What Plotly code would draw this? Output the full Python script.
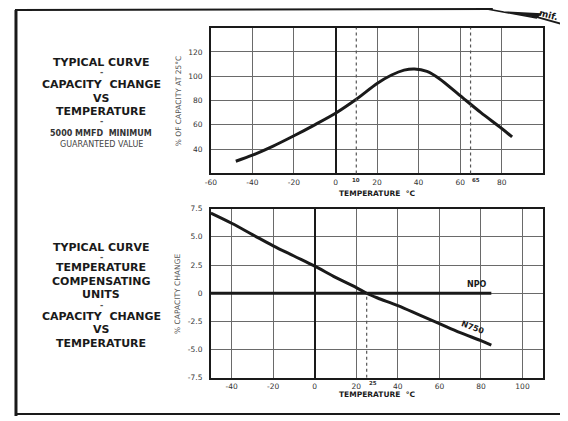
import plotly.graph_objects as go

# page is shown with the default 8px body margin, so the figure is laid out in page pixels minus that margin
OFF = 8
FW, FH = 568 - OFF, 421 - OFF

# ---------------- data ----------------
# Top chart: % of capacity at 25 C vs temperature
top_temp = [-48, -40, -30, -20, -10, 0, 10, 20, 27, 33, 38, 44, 50, 60, 70, 80, 85]
top_pct = [30, 35, 42.5, 51, 60, 69.5, 81, 94, 101, 105, 106, 104, 98, 84, 70, 57, 50]

# Bottom chart: % capacity change vs temperature
n750_temp = [-50, -40, -30, -20, -10, 0, 10, 20, 25, 30, 40, 50, 60, 70, 80, 85]
n750_pct = [7.1, 6.2, 5.2, 4.2, 3.3, 2.4, 1.4, 0.5, 0.0, -0.4, -1.1, -1.9, -2.7, -3.5, -4.2, -4.6]
npo_temp = [-50, 85]
npo_pct = [0, 0]

top_xticks = [-60, -40, -20, 0, 20, 40, 60, 80]
top_xlabels = ["-60", "-40", "-20", "0", "20", "40", "60", "80"]
top_yticks = [40, 60, 80, 100, 120]
top_ylabels = ["40", "60", "80", "100", "120"]
bot_xticks = [-40, -20, 0, 20, 40, 60, 80, 100]
bot_xlabels = ["-40", "-20", "0", "20", "40", "60", "80", "100"]
bot_yticks = [-7.5, -5, -2.5, 0, 2.5, 5, 7.5]
bot_ylabels = ["-7.5", "-5.0", "-2.5", "0", "2.5", "5.0", "7.5"]
top_marks = [10, 65]
bot_marks = [25]

FONT = "DejaVu Sans"
INK = "#1a1a1a"
GRID = "#6a6a6a"


def px(x):
    return (x - OFF) / FW


def py(y):
    return 1 - (y - OFF) / FH


fig = go.Figure()
fig.add_trace(go.Scatter(x=top_temp, y=top_pct, mode="lines", line=dict(color=INK, width=3, shape="spline", smoothing=0.8),
                         xaxis="x", yaxis="y", hoverinfo="skip"))
fig.add_trace(go.Scatter(x=npo_temp, y=npo_pct, mode="lines", line=dict(color=INK, width=3),
                         xaxis="x2", yaxis="y2", hoverinfo="skip"))
fig.add_trace(go.Scatter(x=n750_temp, y=n750_pct, mode="lines", line=dict(color=INK, width=3, shape="spline"),
                         xaxis="x2", yaxis="y2", hoverinfo="skip"))

tickfont = dict(family=FONT, size=7.5, color="#333333")
common_x = dict(showline=True, mirror=True, linecolor=INK, linewidth=1.8, showgrid=True, gridcolor=GRID,
                gridwidth=1, zeroline=True, zerolinecolor=INK, zerolinewidth=2, ticks="",
                tickfont=tickfont, fixedrange=True)
common_y = dict(showline=True, mirror=True, linecolor=INK, linewidth=1.8, showgrid=True, gridcolor=GRID,
                gridwidth=1, zeroline=False, ticks="", tickfont=tickfont, ticklabelstandoff=5, fixedrange=True)

fig.update_layout(
    width=FW, height=FH, margin=dict(l=0, r=0, t=0, b=0),
    paper_bgcolor="white", plot_bgcolor="white", showlegend=False,
    xaxis=dict(common_x, domain=[px(207), px(543)], range=[-60, 100], tickvals=top_xticks,
               ticktext=top_xlabels, anchor="y", ticklabelstandoff=1),
    yaxis=dict(common_y, domain=[py(173), py(24)], range=[20, 140], tickvals=top_yticks,
               ticktext=top_ylabels, anchor="x"),
    xaxis2=dict(common_x, domain=[px(207), px(543)], range=[-50, 110], tickvals=bot_xticks,
                ticktext=bot_xlabels, anchor="y2", ticklabelstandoff=0),
    yaxis2=dict(common_y, domain=[py(382), py(209)], range=[-7.5, 7.5], tickvals=bot_yticks,
                ticktext=bot_ylabels, anchor="x2"),
)

shapes = []
for m in top_marks:
    shapes.append(dict(type="line", xref="x", yref="y domain", x0=m, x1=m, y0=0, y1=1,
                       line=dict(color="#555555", width=1.2, dash="dot")))
for m in bot_marks:
    shapes.append(dict(type="line", xref="x2", yref="y2", x0=m, x1=m, y0=-7.5, y1=0,
                       line=dict(color="#555555", width=1.2, dash="dot")))

# page frame
shapes.append(dict(type="line", xref="paper", yref="paper", x0=px(10), x1=px(10), y0=py(6), y1=py(421),
                   line=dict(color=INK, width=3)))
shapes.append(dict(type="line", xref="paper", yref="paper", x0=px(9), x1=px(492), y0=py(6), y1=py(5),
                   line=dict(color=INK, width=2)))
shapes.append(dict(type="line", xref="paper", yref="paper", x0=px(10), x1=px(568), y0=py(419), y1=py(419),
                   line=dict(color=INK, width=2)))
shapes.append(dict(type="path", xref="paper", yref="paper",
                   path="M %f,%f L %f,%f L %f,%f L %f,%f Z" % (px(486), py(5), px(503), py(8), px(540), py(10), px(536), py(14)),
                   fillcolor=INK, line=dict(color=INK, width=1.5)))
shapes.append(dict(type="line", xref="paper", yref="paper", x0=px(536), x1=px(568), y0=py(13), y1=py(22),
                   line=dict(color=INK, width=2)))
fig.update_layout(shapes=shapes)

ann = []


def txt(x, y, s, size=11, color=INK, bold=True, angle=0, xanchor="center", xref="paper", yref="paper"):
    ann.append(dict(x=x, y=y, xref=xref, yref=yref, text=("<b>%s</b>" % s) if bold else s, showarrow=False,
                    font=dict(family=FONT, size=size, color=color), xanchor=xanchor, yanchor="middle",
                    textangle=angle))


cx = px(96)
# top block
txt(cx, py(60), "TYPICAL CURVE")
txt(cx, py(70), "-", size=8, color="#555")
txt(cx, py(82), "CAPACITY  CHANGE")
txt(cx, py(96), "VS")
txt(cx, py(110), "TEMPERATURE")
txt(cx, py(120), "-", size=8, color="#555")
txt(cx, py(132), "5000 MMFD  MINIMUM", size=8, color="#333")
txt(cx, py(143), "GUARANTEED VALUE", size=8, color="#444", bold=False)
# bottom block
txt(cx, py(249), "TYPICAL CURVE")
txt(cx, py(259), "-", size=8, color="#555")
txt(cx, py(269), "TEMPERATURE")
txt(cx, py(283), "COMPENSATING")
txt(cx, py(297), "UNITS")
txt(cx, py(308), "-", size=8, color="#555")
txt(cx, py(319), "CAPACITY  CHANGE")
txt(cx, py(333), "VS")
txt(cx, py(347), "TEMPERATURE")

# axis titles
txt(px(375), py(194), "TEMPERATURE  °C", size=7.5)
txt(px(375), py(399), "TEMPERATURE  °C", size=7.5)
txt(px(174), py(99), "% OF CAPACITY AT 25°C", size=7.5, color="#555", bold=False, angle=-90)
txt(px(174), py(296), "% CAPACITY CHANGE", size=7.5, color="#555", bold=False, angle=-90)

# superscript marks
txt(10, py(180), "10", size=5.5, color="#333", xref="x")
txt(67.5, py(180), "65", size=5.5, color="#333", xref="x")
txt(28, py(387), "25", size=5.5, color="#333", xref="x2")

# curve labels
txt(78, 0.75, "NPO", size=8, xref="x2", yref="y2")
txt(76, -3.0, "N750", size=8, xref="x2", yref="y2", angle=20)

# page curl text
txt(px(548), py(11), "mif.", size=9, angle=15)

fig.update_layout(annotations=ann)
fig.write_html("out.html")
